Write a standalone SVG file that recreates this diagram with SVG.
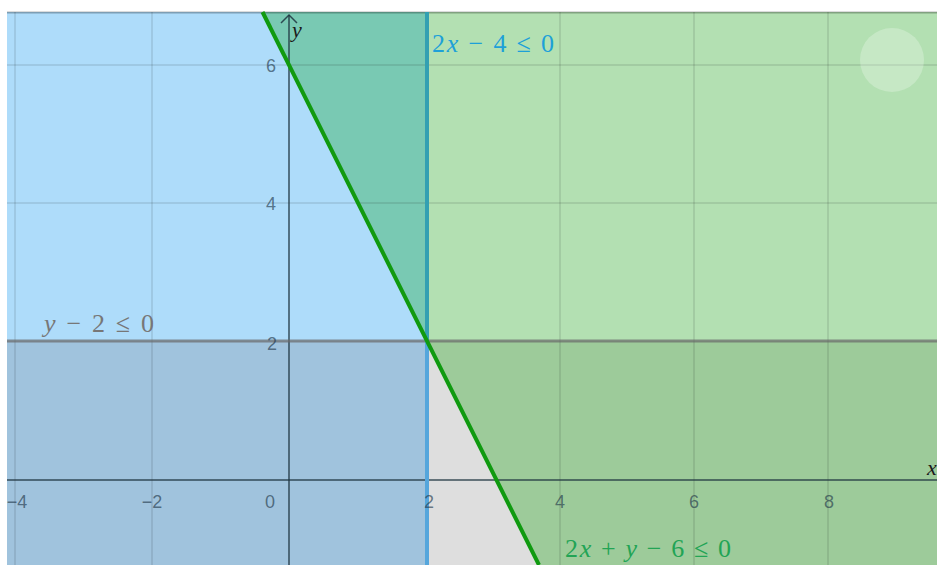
<svg xmlns="http://www.w3.org/2000/svg" width="937" height="565" viewBox="0 0 937 565">
<style>
.grid{stroke:#000;stroke-opacity:0.12;stroke-width:1.5;fill:none}
.tick{font-family:"Liberation Sans",Arial,sans-serif;font-size:18px;fill:#23384a;fill-opacity:0.65;text-anchor:middle}
.math{font-family:"Liberation Serif","DejaVu Serif",serif;font-size:26px}
.it{font-style:italic}
</style>
<rect x="0" y="0" width="937" height="565" fill="#ffffff"/>
<g id="regions">
<rect x="7" y="12" width="420" height="329" fill="#aedcfa"/>
<polygon points="262.5,12 427,12 427,341" fill="#79c9b3"/>
<rect x="427" y="12" width="510" height="329" fill="#b3e0b2"/>
<rect x="7" y="341" width="420" height="224" fill="#a0c3dd"/>
<polygon points="427,341 539,565 427,565" fill="#dedede"/>
<polygon points="427,341 937,341 937,565 539,565" fill="#9dcb9a"/>
<line x1="7" y1="12.5" x2="937" y2="12.5" stroke="#000" stroke-opacity="0.28" stroke-width="2"/>
</g>
<g id="grid">
<line class="grid" x1="15" y1="12" x2="15" y2="565"/>
<line class="grid" x1="152" y1="12" x2="152" y2="565"/>
<line class="grid" x1="560" y1="12" x2="560" y2="565"/>
<line class="grid" x1="694" y1="12" x2="694" y2="565"/>
<line class="grid" x1="828" y1="12" x2="828" y2="565"/>
<line class="grid" x1="7" y1="65" x2="937" y2="65"/>
<line class="grid" x1="7" y1="203" x2="937" y2="203"/>
</g>
<circle id="fab" cx="892" cy="60" r="32" fill="#ffffff" fill-opacity="0.25"/>
<g id="axes" stroke="#1f3440" stroke-opacity="0.85" stroke-width="1.5" fill="none">
<line x1="289" y1="565" x2="289" y2="15"/>
<polyline points="281,23 289,15 297,23"/>
<line x1="7" y1="480" x2="937" y2="480"/>
</g>
<g id="boundaries" fill="none">
<line x1="7" y1="341" x2="937" y2="341" stroke="#6a6a6a" stroke-opacity="0.72" stroke-width="3"/>
<line x1="427" y1="12" x2="427" y2="341" stroke="#33a0b2" stroke-width="4"/>
<line x1="427" y1="341" x2="427" y2="565" stroke="#55a6dc" stroke-width="4"/>
<line x1="262.5" y1="12" x2="539" y2="565" stroke="#109a10" stroke-width="4"/>
</g>
<g id="ticks">
<text class="tick" x="17" y="508">−4</text>
<text class="tick" x="152" y="508">−2</text>
<text class="tick" x="270" y="508">0</text>
<text class="tick" x="429" y="508">2</text>
<text class="tick" x="560" y="508">4</text>
<text class="tick" x="694" y="508">6</text>
<text class="tick" x="829" y="508">8</text>
<text class="tick" x="271" y="72">6</text>
<text class="tick" x="271" y="210">4</text>
<text class="tick" x="272" y="350">2</text>
</g>
<g id="axis-labels" class="math" fill="#1a1a1a">
<text class="it" x="292" y="37" font-size="22">y</text>
<text class="it" x="927" y="475" font-size="22">x</text>
</g>
<g id="labels" class="math">
<text x="432" y="52" fill="#1ea0d8" textLength="122" lengthAdjust="spacing">2<tspan class="it">x</tspan> − 4 ≤ 0</text>
<text x="44" y="332" fill="#777777" textLength="110" lengthAdjust="spacing"><tspan class="it">y</tspan> − 2 ≤ 0</text>
<text x="565" y="557" fill="#22a455" textLength="166" lengthAdjust="spacing">2<tspan class="it">x</tspan> + <tspan class="it">y</tspan> − 6 ≤ 0</text>
</g>
</svg>
